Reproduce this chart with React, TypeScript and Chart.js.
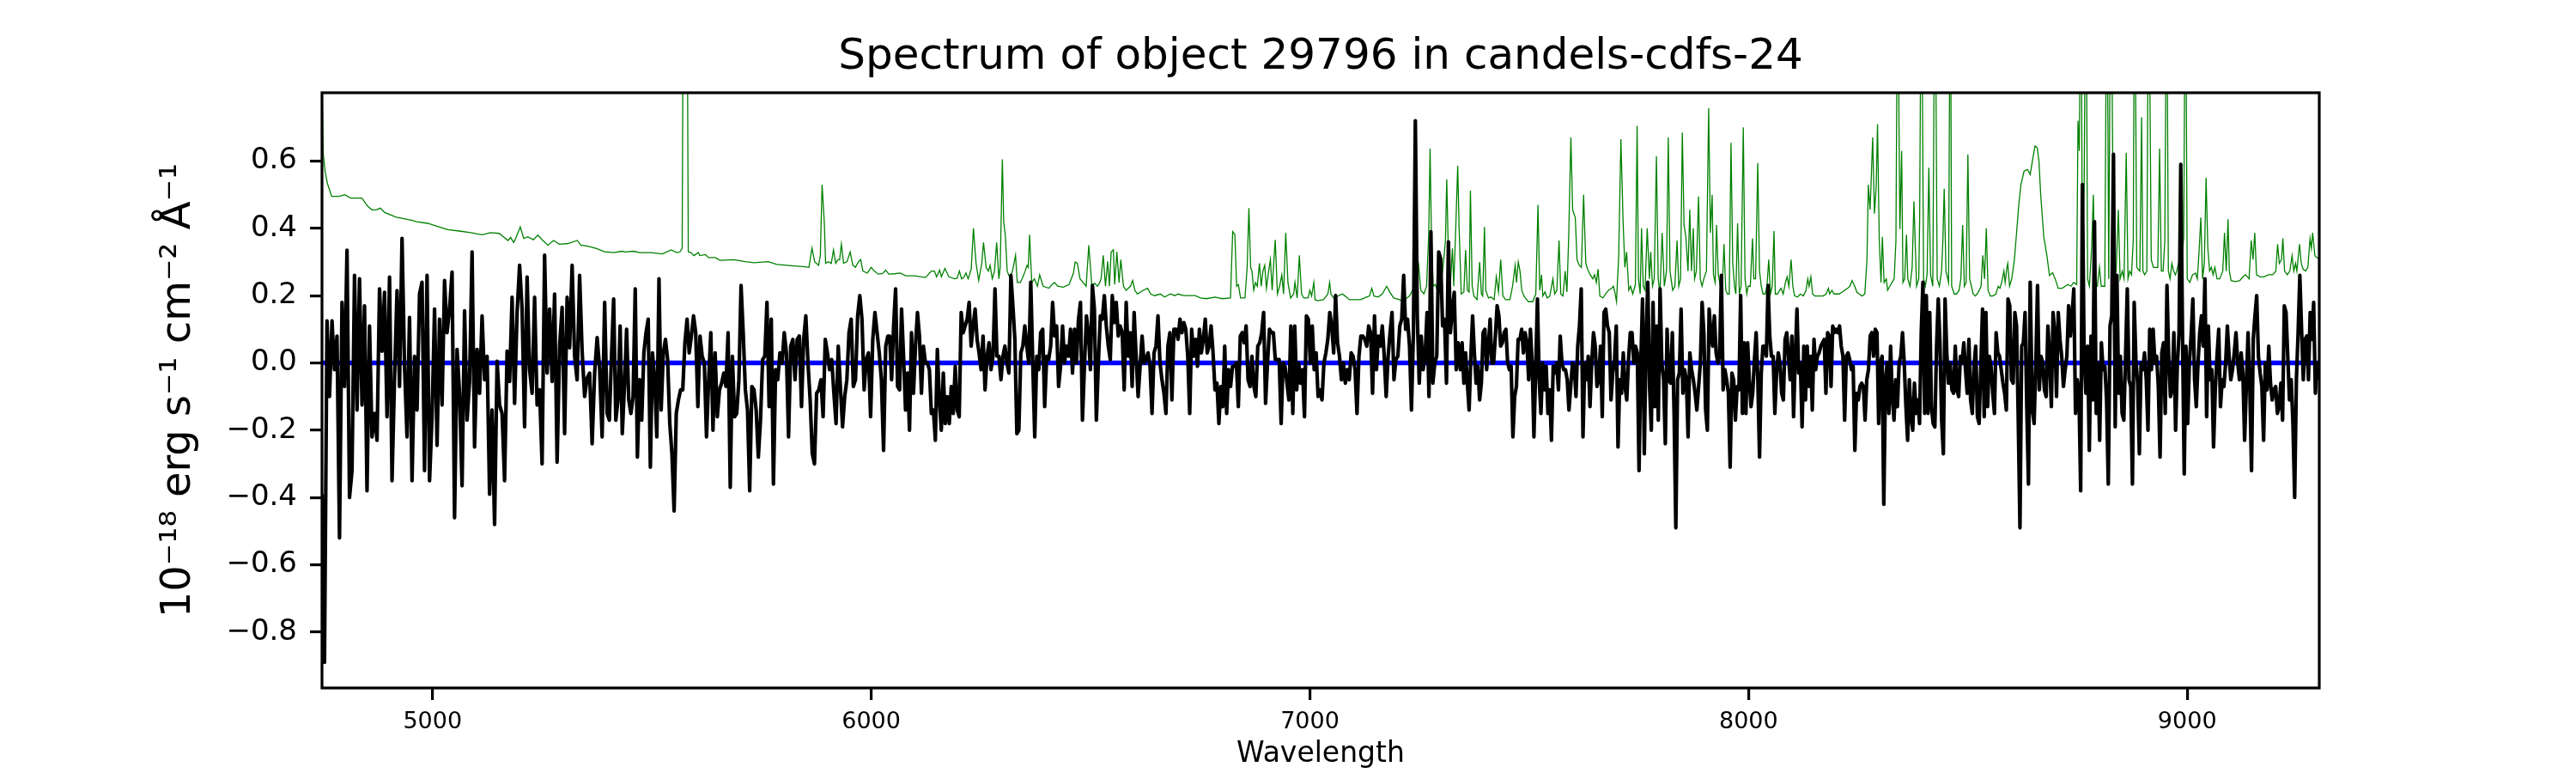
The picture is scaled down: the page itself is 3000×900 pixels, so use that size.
import { useRef, useEffect } from "react";
import { Chart, registerables } from "chart.js";

Chart.register(...registerables);
Chart.defaults.font.family = "'DejaVu Sans', sans-serif";
Chart.defaults.color = "#000";

const TITLE = "Spectrum of object 29796 in candels-cdfs-24";
const X_LABEL = "Wavelength";
const Y_LABEL = "10\u207b\u00b9\u2078 erg s\u207b\u00b9 cm\u207b\u00b2 \u00c5\u207b\u00b9";

const X_MIN = 4748;
const X_MAX = 9301;
const Y_MIN = -0.966;
const Y_MAX = 0.803;
const X_TICKS = [5000, 6000, 7000, 8000, 9000];
const X_TICK_LABELS = ["5000", "6000", "7000", "8000", "9000"];
const Y_TICKS = [-0.8, -0.6, -0.4, -0.2, 0.0, 0.2, 0.4, 0.6];
const Y_TICK_LABELS = ["\u22120.8", "\u22120.6", "\u22120.4", "\u22120.2", "0.0", "0.2", "0.4", "0.6"];

const FLUX_EDGES = [
  [4748, 5398],
  [5403, 6038],
  [6042, 6690],
  [6695, 7338],
  [7343, 7990],
  [7994, 8642],
  [8647, 9300],
];
const FLUX_A = [-0.39, -0.89, 0.125, -0.10, 0.125, -0.02, 0.08, -0.52, 0.18, -0.07, 0.335, -0.40, -0.32, 0.26, -0.14, 0.25, -0.125, 0.17, -0.38, 0.11, -0.22, -0.15, -0.23, 0.22, 0.035, 0.21, -0.16, 0.255, -0.35, -0.045, 0.215, -0.07, 0.37, -0.01, -0.22, 0.135, -0.35, 0.02, -0.14, 0.205, 0.24, -0.32, 0.26, -0.35, -0.16, 0.16, -0.245, 0.13, -0.125, 0.245, 0.09, 0.16, 0.27, -0.46, 0.04, -0.09, -0.365, 0.155, -0.17, -0.055, 0.33, -0.25, 0.04, -0.09, 0.14, -0.05, 0.02, -0.39, -0.14, -0.48, 0.005, -0.125, -0.15, -0.35, 0.035, -0.055, 0.195, -0.12, 0.15, 0.29, 0.16, -0.19, 0.255, -0.02, -0.09, 0.195, -0.125, -0.08, -0.30, 0.32, -0.03, 0.16, -0.055, 0.205, -0.295, 0.05, 0.165, -0.21, 0.195, 0.045, 0.29, 0.02, -0.05, 0.26, 0.035, -0.10, -0.045, -0.03, -0.24, -0.03, 0.075, -0.015, -0.22, 0.18, -0.15];
const FLUX_B = [-0.17, 0.02, 0.19, -0.17, -0.11, 0.11, -0.21, -0.07, 0.10, -0.11, -0.15, -0.10, 0.22, -0.28, -0.05, -0.17, 0.03, 0.09, 0.13, -0.31, 0.03, -0.05, -0.22, 0.25, -0.14, 0.03, 0.07, 0.01, -0.18, -0.27, -0.44, -0.15, -0.11, -0.08, -0.08, 0.06, 0.13, 0.03, 0.08, 0.14, 0.09, -0.13, 0.08, 0.02, 0.0, -0.22, -0.05, 0.09, -0.2, 0.03, -0.16, -0.08, -0.06, -0.03, -0.07, 0.09, -0.37, 0.02, -0.16, -0.15, -0.05, 0.23, 0.09, -0.08, -0.14, -0.38, -0.07, -0.08, -0.14, -0.28, -0.17, 0.01, 0.02, 0.18, -0.13, 0.13, -0.36, -0.02, -0.05, 0.03, 0, 0.09, 0.03, -0.22, 0.05, 0.07, -0.05, 0.07, 0.08, -0.13, 0.07, 0.14, 0, -0.11, -0.27, -0.3, -0.09, -0.08, -0.05, -0.16, 0.07, 0.03, -0.02, 0.01, -0.09, -0.18, 0.05, -0.07, -0.19, -0.1, -0.05, 0.09, 0.13, -0.07, -0.05, 0.14, 0.2, 0.13, -0.08, 0.01, 0.03, -0.16, 0.07, 0.15, 0.09, 0.03, -0.05, -0.26, 0.05, 0.08];
const FLUX_C = [0.08, -0.05, 0.11, 0.22, -0.07, -0.08, 0.16, 0.02, -0.14, -0.03, -0.2, 0.09, -0.09, 0.05, 0.15, 0.08, -0.09, 0.05, 0, 0, -0.02, -0.15, -0.14, -0.23, 0.04, -0.11, -0.2, -0.03, -0.18, -0.1, -0.18, -0.07, -0.15, -0.01, -0.14, -0.16, 0.15, 0.09, 0.11, 0.13, 0.18, 0.05, 0.11, 0.16, 0.07, 0.03, -0.02, 0.08, -0.08, 0.02, 0.06, -0.02, 0.02, 0.22, 0.02, 0.02, -0.05, 0.02, 0.05, 0, -0.03, 0.26, 0.17, 0.07, -0.21, -0.2, 0.03, 0.05, 0.11, 0.05, 0, 0.24, 0, -0.22, 0.02, -0.02, 0.09, 0.1, -0.13, 0.02, 0.01, 0.05, 0.18, 0.08, 0.11, -0.07, -0.01, 0.11, 0, 0.05, 0.02, 0.1, -0.03, 0.1, 0, 0.13, 0.18, -0.17, -0.01, 0.14, 0.09, -0.02, 0.23, 0.16, -0.17, 0, 0.14, 0.13, 0.2, 0.11, 0.05, 0.01, 0.2, 0.12, 0.18, 0.08, 0.11, 0.09, -0.08, 0.18, 0.02, 0.09, -0.07, 0.15, 0.02, -0.1, -0.01, 0.08, 0, 0.01, 0.03, -0.01, -0.15, 0.03, 0.05, 0.14, 0, -0.05, -0.09, -0.15, 0.05, 0.09, -0.11, 0.1];
const FLUX_D = [0.1, 0.07, 0.13, 0.09, 0.12, 0.1, 0.02, -0.15, 0.1, 0.02, 0.07, -0.01, 0.1, 0.03, 0.07, 0.13, 0.03, 0.05, 0.11, 0.03, -0.08, -0.06, -0.18, -0.07, -0.13, 0.05, -0.15, -0.02, -0.07, -0.01, -0.01, 0, -0.13, 0.08, 0.09, 0.06, 0.11, -0.05, -0.07, 0.02, -0.07, -0.1, 0.05, 0.06, 0.09, 0.15, -0.12, 0, 0.1, 0.09, 0.09, 0.01, 0.01, 0.01, -0.18, 0, -0.01, -0.06, -0.11, 0.11, -0.15, 0.11, -0.08, 0, -0.06, -0.02, -0.16, 0.14, 0.13, 0, 0.11, -0.02, 0.03, -0.1, -0.08, -0.11, 0, 0.03, 0.07, 0.15, 0.11, 0.03, 0.2, 0.06, 0.02, -0.05, 0, -0.06, -0.02, -0.05, 0.03, 0.02, -0.02, -0.15, 0.02, 0.08, 0.08, 0.07, 0.05, 0.11, 0.09, -0.09, 0.14, -0.02, 0.08, 0.05, 0.11, 0.02, -0.1, 0.02, 0.09, 0.15, -0.05, 0.01, 0.02, 0.11, 0.13, 0.26, 0.1, 0.13, 0.05, -0.14, 0.09, 0.72, 0.14, -0.06, 0.08, -0.02, 0.02, 0.15, -0.1, 0.39, -0.06, 0, 0.02, 0.33, 0.31, 0.11, 0.13, -0.06, 0.36, 0.09, 0.16, 0.21, -0.02, 0.06];
const FLUX_E = [-0.02, 0.06, -0.06, 0.03, -0.06, -0.14, 0.02, 0.14, 0.03, -0.06, -0.01, -0.11, -0.06, 0.09, 0.1, -0.02, 0.05, 0.13, 0, 0, 0.08, 0.17, 0.14, 0.05, 0.06, 0.09, 0.1, 0, -0.02, -0.01, -0.22, -0.1, -0.07, 0.07, 0.07, 0.1, 0.03, 0.09, 0.06, -0.05, 0.1, 0, -0.22, -0.02, 0.19, -0.05, -0.15, 0, -0.08, -0.01, -0.15, -0.08, -0.23, -0.01, -0.03, 0, -0.08, 0.08, 0, -0.02, -0.02, -0.05, -0.14, -0.07, 0, -0.01, -0.1, 0.05, 0.11, 0.22, -0.22, 0, -0.05, 0.02, -0.13, 0, 0.09, 0.05, -0.07, -0.05, 0.05, -0.16, 0.15, 0.16, 0.11, 0.09, -0.11, -0.03, 0.01, 0.11, -0.25, -0.05, -0.09, 0.03, -0.07, -0.11, 0.01, 0.09, 0.09, 0, 0.05, 0.03, -0.32, 0, 0.19, -0.27, 0.07, 0.24, -0.07, -0.2, 0.18, -0.13, 0.11, -0.17, 0.22, 0, -0.05, -0.24, 0.1, -0.05, -0.06, 0.09, -0.15, -0.49, -0.05, -0.03, 0.16, -0.09, -0.02, -0.05, -0.22, 0.03, -0.02, -0.05, -0.09, -0.14, -0.07, 0, 0.18, 0.09, -0.14, -0.2, 0.16, 0.09, 0.05, 0.14, 0.03, 0, 0.02, 0.26, -0.08, -0.02, -0.05, -0.09, -0.31, -0.03, -0.05, -0.17, -0.07, -0.08, 0.2, -0.15, 0.06];
const FLUX_F = [-0.15, 0.06, -0.05, -0.13, -0.09, 0.01, 0.09, -0.05, -0.28, -0.03, 0.05, 0.05, 0.02, 0.23, 0.08, 0.02, 0.02, -0.15, -0.03, 0.03, 0, -0.09, -0.11, 0.07, 0.09, 0.02, -0.05, 0.08, -0.16, 0.02, 0.16, -0.03, 0, -0.19, 0.05, -0.11, 0.05, -0.07, 0.02, -0.14, 0.07, -0.02, 0.02, 0.03, 0.05, 0.06, 0.07, -0.09, 0.09, 0.08, -0.07, 0.11, 0.09, 0.1, 0.09, 0.11, 0.05, 0.02, -0.17, 0.02, 0.03, 0.01, -0.02, -0.01, -0.26, -0.09, -0.11, -0.07, -0.06, -0.07, -0.17, -0.05, -0.02, 0.08, 0.09, 0.02, 0.1, 0.09, -0.18, 0, 0.02, -0.42, -0.05, 0, -0.15, 0.05, -0.1, -0.17, -0.05, -0.13, 0, 0.02, 0.09, 0, -0.13, -0.23, -0.05, -0.16, -0.2, -0.06, -0.15, -0.11, -0.18, 0.09, 0.24, -0.15, 0.2, -0.15, 0.15, -0.13, -0.18, -0.19, 0.05, 0.19, 0.06, -0.17, -0.27, 0.19, 0.03, -0.06, 0, -0.08, -0.09, 0.05, -0.08, -0.1, 0.02, 0, 0.06, -0.02, -0.09, 0.07, -0.11, -0.15, -0.01, 0.05, -0.16, -0.18, -0.01, 0.16, -0.16, 0.15, -0.13, 0.02, -0.01, -0.09, -0.15, 0.09, 0.03, 0.02, -0.02, -0.06, -0.09, -0.14, 0.19, 0.17, -0.05, -0.06, 0.15, 0.11, -0.17, -0.49, 0.05, 0.06, 0.15, -0.13, -0.36, 0.24];
const FLUX_G = [-0.14, -0.18, 0, 0.23, -0.08, 0.02, 0, -0.08, -0.1, 0.11, 0.02, -0.13, 0.15, 0.09, -0.1, 0.15, 0.07, 0.02, -0.07, -0.02, 0.02, 0.17, 0.08, 0.14, 0.22, -0.15, -0.05, -0.09, -0.38, 0.53, 0.02, -0.09, 0.05, -0.26, 0.08, -0.11, 0.42, -0.15, 0, -0.23, 0.06, -0.02, -0.01, -0.11, -0.36, 0.11, 0.14, 0.62, -0.19, 0.26, -0.09, 0.02, -0.15, -0.17, 0.02, 0.22, -0.05, -0.07, -0.36, 0.18, 0.01, -0.06, -0.27, 0, -0.02, 0.03, -0.05, -0.2, 0.1, -0.02, 0.1, 0, 0.02, -0.07, -0.28, 0.03, 0.06, -0.15, 0.23, 0.02, -0.1, -0.08, 0.09, -0.2, -0.01, 0.09, 0.59, 0.09, -0.33, 0.05, -0.18, 0, 0.08, 0.19, -0.05, -0.13, 0, 0.09, 0.14, 0.05, 0.25, -0.16, 0.11, -0.05, -0.02, -0.25, -0.08, 0.02, 0.1, -0.13, -0.05, -0.07, 0, 0.11, 0.02, -0.05, -0.02, 0.03, 0.09, 0, -0.05, 0.03, -0.03, -0.23, -0.07, 0.09, -0.07, -0.32, 0.07, 0.14, 0.2, 0.02, -0.03, -0.07, -0.23, 0, -0.08, 0.05, -0.06, -0.11, -0.08, -0.07, -0.15, -0.13, -0.06, -0.17, 0.17, 0.15, 0.02, -0.11, -0.05, -0.18, -0.4, -0.05, 0.09, 0.26, 0.1, -0.05, 0.07, 0.08, -0.05, 0.15, 0.07, 0.18, -0.09, 0, -0.05];
const FLUX_PARTS = [FLUX_A, FLUX_B, FLUX_C, FLUX_D, FLUX_E, FLUX_F, FLUX_G];

// noise / sky spectrum as [wavelength, value] pairs (values above the frame are clipped)
const SKY_A = [[4748, 0.82], [4751, 0.62], [4755, 0.57], [4760, 0.535], [4770, 0.495], [4787, 0.495], [4800, 0.5], [4813, 0.49], [4839, 0.49], [4852, 0.466], [4862, 0.455], [4871, 0.455], [4881, 0.46], [4891, 0.447], [4917, 0.433], [4930, 0.43], [4956, 0.423], [4963, 0.42], [4989, 0.415], [5008, 0.407], [5035, 0.396], [5061, 0.392], [5087, 0.387], [5113, 0.381], [5132, 0.387], [5152, 0.385], [5172, 0.364], [5178, 0.373], [5185, 0.358], [5191, 0.375], [5200, 0.404], [5208, 0.37], [5217, 0.375], [5230, 0.366], [5240, 0.38], [5250, 0.366], [5263, 0.35], [5276, 0.364], [5289, 0.353], [5309, 0.355], [5330, 0.364], [5338, 0.35], [5354, 0.347], [5374, 0.34], [5393, 0.33]];
const SKY_B = [[5400, 0.33], [5413, 0.328], [5432, 0.332], [5439, 0.33], [5459, 0.332], [5472, 0.328], [5498, 0.328], [5524, 0.324], [5544, 0.336], [5557, 0.328], [5564, 0.33], [5569, 0.341], [5573, 1.6], [5579, 1.6], [5583, 0.33], [5589, 0.328], [5596, 0.319], [5606, 0.328], [5609, 0.319], [5622, 0.322], [5629, 0.313], [5645, 0.313], [5655, 0.305], [5687, 0.307], [5713, 0.301], [5733, 0.298], [5765, 0.301], [5785, 0.293], [5818, 0.289], [5850, 0.286], [5858, 0.284], [5865, 0.341], [5871, 0.301], [5880, 0.29], [5884, 0.319], [5888, 0.53], [5893, 0.42], [5896, 0.296], [5902, 0.301], [5909, 0.296], [5914, 0.336], [5919, 0.296], [5924, 0.307], [5928, 0.307], [5932, 0.353], [5937, 0.296], [5945, 0.301], [5952, 0.33], [5958, 0.291], [5964, 0.284], [5971, 0.301], [5976, 0.307], [5981, 0.273], [5991, 0.267], [6000, 0.284], [6007, 0.273], [6016, 0.264], [6026, 0.266], [6033, 0.276]];
const SKY_C = [[6040, 0.264], [6053, 0.265], [6066, 0.267], [6079, 0.259], [6098, 0.259], [6124, 0.254], [6137, 0.273], [6144, 0.273], [6149, 0.256], [6156, 0.276], [6160, 0.256], [6168, 0.281], [6177, 0.256], [6190, 0.25], [6196, 0.252], [6201, 0.273], [6206, 0.25], [6211, 0.254], [6216, 0.267], [6221, 0.25], [6228, 0.279], [6233, 0.4], [6239, 0.296], [6245, 0.245], [6252, 0.296], [6256, 0.358], [6262, 0.284], [6267, 0.273], [6271, 0.29], [6276, 0.25], [6281, 0.273], [6286, 0.358], [6291, 0.25], [6294, 0.284], [6299, 0.605], [6302, 0.42], [6306, 0.375], [6310, 0.273], [6317, 0.25], [6323, 0.279], [6329, 0.32], [6333, 0.239], [6340, 0.239], [6346, 0.256], [6351, 0.273], [6355, 0.29], [6358, 0.284], [6361, 0.381], [6366, 0.239], [6372, 0.25], [6379, 0.228], [6384, 0.262], [6392, 0.228], [6405, 0.222], [6412, 0.233], [6418, 0.239], [6425, 0.228], [6438, 0.225], [6451, 0.233], [6461, 0.267], [6465, 0.3], [6470, 0.296], [6476, 0.25], [6483, 0.239], [6490, 0.228], [6496, 0.35], [6503, 0.228], [6509, 0.237], [6516, 0.228], [6521, 0.239], [6524, 0.25], [6529, 0.32], [6534, 0.228], [6539, 0.302], [6543, 0.228], [6547, 0.33], [6552, 0.336], [6555, 0.233], [6560, 0.33], [6565, 0.239], [6569, 0.307], [6575, 0.228], [6581, 0.216], [6591, 0.228], [6596, 0.245], [6601, 0.216], [6607, 0.205], [6620, 0.216], [6630, 0.222], [6637, 0.205], [6646, 0.2], [6659, 0.205], [6669, 0.196], [6682, 0.205]];
const SKY_D = [[6692, 0.2], [6699, 0.205], [6712, 0.2], [6725, 0.2], [6738, 0.2], [6751, 0.193], [6764, 0.191], [6784, 0.196], [6800, 0.191], [6819, 0.193], [6824, 0.39], [6829, 0.381], [6833, 0.228], [6837, 0.233], [6842, 0.193], [6852, 0.193], [6857, 0.284], [6861, 0.46], [6865, 0.284], [6868, 0.273], [6872, 0.216], [6876, 0.239], [6880, 0.228], [6885, 0.296], [6889, 0.228], [6893, 0.273], [6897, 0.29], [6901, 0.222], [6906, 0.273], [6910, 0.307], [6914, 0.216], [6917, 0.284], [6921, 0.366], [6926, 0.205], [6931, 0.228], [6936, 0.262], [6940, 0.205], [6945, 0.387], [6950, 0.239], [6956, 0.193], [6963, 0.205], [6966, 0.239], [6971, 0.193], [6976, 0.32], [6981, 0.205], [6986, 0.193], [6996, 0.193], [7000, 0.216], [7004, 0.199], [7009, 0.239], [7012, 0.188], [7018, 0.185], [7031, 0.188], [7041, 0.205], [7045, 0.239], [7048, 0.205], [7054, 0.193], [7064, 0.199], [7074, 0.205], [7080, 0.199], [7090, 0.188], [7103, 0.188], [7116, 0.188], [7129, 0.196], [7136, 0.199], [7141, 0.222], [7146, 0.199], [7156, 0.196], [7165, 0.205], [7175, 0.228], [7182, 0.211], [7191, 0.193], [7204, 0.188], [7211, 0.182], [7221, 0.193], [7227, 0.199], [7234, 0.216], [7239, 0.205], [7244, 0.256], [7248, 0.29], [7253, 0.216], [7260, 0.205], [7266, 0.228], [7271, 0.387], [7274, 0.637], [7277, 0.387], [7281, 0.228], [7286, 0.233], [7293, 0.205], [7299, 0.228], [7306, 0.319], [7309, 0.364], [7312, 0.546], [7315, 0.364], [7320, 0.228], [7325, 0.34], [7328, 0.228], [7333, 0.421], [7337, 0.586], [7340, 0.41]];
const SKY_E = [[7345, 0.205], [7351, 0.211], [7355, 0.336], [7359, 0.216], [7363, 0.211], [7366, 0.512], [7370, 0.228], [7374, 0.199], [7381, 0.188], [7387, 0.3], [7391, 0.205], [7394, 0.199], [7398, 0.404], [7401, 0.216], [7407, 0.193], [7413, 0.196], [7420, 0.188], [7425, 0.256], [7430, 0.211], [7435, 0.307], [7440, 0.199], [7446, 0.188], [7456, 0.188], [7462, 0.228], [7468, 0.29], [7471, 0.239], [7475, 0.3], [7479, 0.273], [7483, 0.216], [7488, 0.199], [7498, 0.182], [7508, 0.182], [7515, 0.205], [7520, 0.47], [7524, 0.216], [7528, 0.262], [7531, 0.199], [7536, 0.211], [7541, 0.193], [7547, 0.199], [7554, 0.25], [7558, 0.205], [7563, 0.216], [7568, 0.364], [7572, 0.205], [7577, 0.199], [7582, 0.273], [7586, 0.211], [7590, 0.375], [7595, 0.67], [7599, 0.455], [7605, 0.432], [7609, 0.307], [7614, 0.29], [7619, 0.284], [7624, 0.5], [7629, 0.296], [7633, 0.279], [7639, 0.262], [7645, 0.25], [7649, 0.262], [7653, 0.239], [7657, 0.279], [7661, 0.199], [7668, 0.193], [7674, 0.205], [7681, 0.216], [7688, 0.222], [7692, 0.228], [7696, 0.205], [7699, 0.182], [7704, 0.319], [7709, 0.665], [7714, 0.421], [7718, 0.284], [7722, 0.33], [7727, 0.216], [7731, 0.228], [7736, 0.205], [7742, 0.233], [7746, 0.705], [7749, 0.25], [7753, 0.205], [7756, 0.4], [7760, 0.228], [7764, 0.216], [7769, 0.4], [7774, 0.25], [7777, 0.33], [7781, 0.228], [7785, 0.25], [7790, 0.614], [7794, 0.25], [7798, 0.205], [7803, 0.387], [7808, 0.228], [7813, 0.273], [7817, 0.67], [7821, 0.273], [7827, 0.216], [7832, 0.228], [7837, 0.364], [7841, 0.228], [7845, 0.25], [7849, 0.685], [7853, 0.41], [7857, 0.375], [7862, 0.273], [7866, 0.455], [7870, 0.273], [7874, 0.4], [7877, 0.25], [7881, 0.273], [7886, 0.495], [7890, 0.25], [7894, 0.228], [7898, 0.25], [7904, 0.273], [7909, 0.757], [7913, 0.387], [7917, 0.5], [7920, 0.262], [7924, 0.239], [7927, 0.41], [7931, 0.262], [7936, 0.228], [7940, 0.216], [7944, 0.353], [7948, 0.216], [7952, 0.205], [7956, 0.205], [7960, 0.654], [7964, 0.296], [7968, 0.228], [7971, 0.205], [7975, 0.415], [7979, 0.205], [7983, 0.228], [7988, 0.7], [7992, 0.25]];
const SKY_F = [[7996, 0.205], [7999, 0.228], [8004, 0.228], [8009, 0.37], [8012, 0.25], [8016, 0.25], [8021, 0.594], [8025, 0.273], [8029, 0.228], [8033, 0.205], [8038, 0.205], [8042, 0.228], [8046, 0.307], [8050, 0.205], [8054, 0.228], [8058, 0.392], [8061, 0.205], [8066, 0.205], [8071, 0.216], [8074, 0.222], [8079, 0.205], [8084, 0.239], [8088, 0.256], [8092, 0.228], [8097, 0.307], [8101, 0.228], [8105, 0.199], [8112, 0.196], [8118, 0.205], [8125, 0.199], [8131, 0.216], [8135, 0.25], [8138, 0.228], [8142, 0.256], [8146, 0.205], [8151, 0.199], [8157, 0.199], [8164, 0.199], [8170, 0.199], [8177, 0.205], [8182, 0.222], [8185, 0.205], [8190, 0.216], [8195, 0.205], [8200, 0.205], [8206, 0.205], [8213, 0.21], [8219, 0.216], [8226, 0.222], [8231, 0.228], [8236, 0.245], [8242, 0.228], [8247, 0.21], [8252, 0.205], [8259, 0.199], [8265, 0.205], [8270, 0.307], [8273, 0.53], [8277, 0.455], [8279, 0.523], [8283, 0.67], [8287, 0.444], [8291, 0.523], [8294, 0.71], [8298, 0.364], [8302, 0.239], [8305, 0.375], [8309, 0.239], [8314, 0.25], [8317, 0.216], [8322, 0.228], [8327, 0.239], [8332, 0.25], [8336, 0.364], [8340, 1.3], [8343, 0.705], [8345, 0.398], [8349, 0.63], [8352, 0.239], [8356, 0.25], [8360, 0.381], [8363, 0.25], [8368, 0.228], [8373, 0.284], [8377, 0.48], [8383, 0.228], [8388, 0.25], [8390, 0.421], [8394, 1.3], [8399, 0.25], [8403, 0.228], [8407, 0.262], [8411, 0.58], [8415, 0.262], [8420, 0.228], [8425, 1.3], [8430, 0.25], [8435, 0.228], [8440, 0.273], [8443, 0.364], [8446, 0.518], [8450, 0.273], [8456, 0.239], [8460, 1.3], [8463, 0.228], [8469, 0.205], [8474, 0.205], [8480, 0.216], [8484, 0.25], [8488, 0.41], [8492, 0.228], [8496, 0.239], [8500, 0.62], [8504, 0.25], [8508, 0.228], [8512, 0.205], [8517, 0.199], [8521, 0.205], [8526, 0.216], [8530, 0.228], [8534, 0.32], [8538, 0.25], [8542, 0.4], [8546, 0.216], [8551, 0.199], [8557, 0.199], [8564, 0.205], [8569, 0.228], [8573, 0.222], [8577, 0.239], [8582, 0.273], [8585, 0.239], [8589, 0.284], [8591, 0.296], [8595, 0.228], [8600, 0.25], [8606, 0.307], [8611, 0.387], [8616, 0.47], [8621, 0.53], [8628, 0.57], [8636, 0.575], [8642, 0.56]];
const SKY_G = [[8647, 0.6], [8653, 0.645], [8658, 0.64], [8662, 0.6], [8666, 0.5], [8673, 0.375], [8680, 0.32], [8686, 0.26], [8693, 0.268], [8699, 0.25], [8706, 0.222], [8715, 0.222], [8722, 0.228], [8728, 0.233], [8735, 0.228], [8741, 0.239], [8748, 0.233], [8751, 0.72], [8754, 0.63], [8758, 1.3], [8761, 0.25], [8765, 0.512], [8769, 1.3], [8773, 0.25], [8777, 0.228], [8782, 0.34], [8786, 0.5], [8790, 0.228], [8795, 0.228], [8800, 0.284], [8804, 0.228], [8808, 0.228], [8812, 0.228], [8817, 1.3], [8821, 0.25], [8826, 1.3], [8830, 0.637], [8834, 0.25], [8838, 0.273], [8843, 0.455], [8847, 0.25], [8852, 0.273], [8856, 0.25], [8861, 0.625], [8865, 0.25], [8869, 0.273], [8873, 0.262], [8877, 0.364], [8880, 1.3], [8885, 0.284], [8892, 0.273], [8896, 0.73], [8899, 0.273], [8903, 0.262], [8908, 0.273], [8912, 1.3], [8918, 0.307], [8923, 0.284], [8928, 0.284], [8933, 0.284], [8937, 0.637], [8941, 0.273], [8945, 0.273], [8949, 0.364], [8953, 1.3], [8957, 0.273], [8961, 0.25], [8965, 0.296], [8969, 0.273], [8973, 0.262], [8976, 0.273], [8980, 0.296], [8984, 0.307], [8988, 0.307], [8992, 0.375], [8996, 1.3], [9000, 0.25], [9006, 0.239], [9012, 0.262], [9019, 0.267], [9023, 0.25], [9027, 0.33], [9031, 0.432], [9035, 0.25], [9039, 0.296], [9043, 0.55], [9047, 0.341], [9051, 0.273], [9055, 0.284], [9059, 0.262], [9063, 0.284], [9068, 0.25], [9074, 0.25], [9081, 0.273], [9085, 0.387], [9089, 0.273], [9093, 0.427], [9096, 0.273], [9100, 0.245], [9110, 0.242], [9120, 0.245], [9127, 0.256], [9133, 0.262], [9141, 0.25], [9146, 0.364], [9150, 0.307], [9154, 0.387], [9158, 0.262], [9166, 0.256], [9175, 0.256], [9185, 0.262], [9195, 0.262], [9202, 0.273], [9206, 0.353], [9210, 0.296], [9215, 0.307], [9218, 0.37], [9222, 0.273], [9228, 0.262], [9234, 0.273], [9239, 0.319], [9243, 0.273], [9247, 0.296], [9250, 0.273], [9256, 0.353], [9260, 0.296], [9264, 0.279], [9270, 0.273], [9275, 0.284], [9280, 0.37], [9283, 0.341], [9286, 0.387], [9291, 0.319], [9296, 0.313], [9300, 0.31]];
const SKY_PARTS = [SKY_A, SKY_B, SKY_C, SKY_D, SKY_E, SKY_F, SKY_G];

// zero-level model
const MODEL_WAVE = [4748, 9301];
const MODEL_FLUX = [0, 0];

const framePlugin = {
  id: "frame",
  afterDatasetsDraw(chart: Chart) {
    const { ctx, chartArea: a } = chart;
    ctx.save();
    ctx.strokeStyle = "#000";
    ctx.lineWidth = 3.2;
    ctx.strokeRect(a.left, a.top, a.right - a.left, a.bottom - a.top);
    ctx.restore();
  },
};

const SpectrumChart = () => {
  const canvasRef = useRef<HTMLCanvasElement>(null);

  useEffect(() => {
    document.body.style.margin = "0";
    if (!canvasRef.current) return;

    const fluxPoints = FLUX_PARTS.flatMap((part, s) => {
      const [from, to] = FLUX_EDGES[s];
      const step = (to - from) / (part.length - 1);
      return part.map((y, i) => ({ x: from + i * step, y }));
    });
    const skyPoints = SKY_PARTS.flat().map(([x, y]) => ({ x, y }));
    const modelPoints = MODEL_WAVE.map((x, i) => ({ x, y: MODEL_FLUX[i] }));

    const tickGrid = {
      display: true,
      drawOnChartArea: false,
      drawTicks: true,
      tickLength: 14,
      color: "#000",
      lineWidth: 3.2,
    };

    const chart = new Chart(canvasRef.current, {
      type: "line",
      data: {
        datasets: [
          {
            label: "flux",
            data: fluxPoints,
            borderColor: "#000000",
            borderWidth: 4.2,
            pointRadius: 0,
            tension: 0,
            fill: false,
            borderJoinStyle: "round",
            order: 1,
          },
          {
            label: "error",
            data: skyPoints,
            borderColor: "#008000",
            borderWidth: 1.3,
            pointRadius: 0,
            tension: 0,
            fill: false,
            order: 2,
          },
          {
            label: "model",
            data: modelPoints,
            borderColor: "#0000ff",
            borderWidth: 5.5,
            pointRadius: 0,
            fill: false,
            order: 3,
          },
        ],
      },
      options: {
        animation: false,
        responsive: true,
        maintainAspectRatio: false,
        devicePixelRatio: 1,
        // left padding shifts the centred title onto the plot's centre
        layout: { padding: { left: 76, right: 0, top: 0, bottom: 0 } },
        scales: {
          x: {
            type: "linear",
            min: X_MIN,
            max: X_MAX,
            afterBuildTicks: (scale: any) => {
              scale.ticks = X_TICKS.map((value) => ({ value }));
            },
            afterFit: (scale: any) => {
              scale.height = 99;
            },
            ticks: {
              callback: (_v: any, i: number) => X_TICK_LABELS[i],
              font: { size: 27 },
              color: "#000",
              padding: 10,
              maxRotation: 0,
            },
            grid: tickGrid,
            border: { display: false },
            title: {
              display: true,
              text: X_LABEL,
              font: { size: 33 },
              color: "#000",
              padding: { top: 0, bottom: 2 },
            },
          },
          y: {
            type: "linear",
            min: Y_MIN,
            max: Y_MAX,
            afterBuildTicks: (scale: any) => {
              scale.ticks = Y_TICKS.map((value) => ({ value }));
            },
            afterFit: (scale: any) => {
              scale.width = 299;
            },
            ticks: {
              callback: (_v: any, i: number) => Y_TICK_LABELS[i],
              font: { size: 34 },
              color: "#000",
              padding: 15,
            },
            grid: tickGrid,
            border: { display: false },
            title: {
              display: true,
              text: Y_LABEL,
              font: { size: 48 },
              color: "#000",
              padding: { top: 104, bottom: 0 },
            },
          },
          // empty right-hand box that reserves the figure's right margin
          yRight: {
            type: "linear",
            position: "right",
            min: Y_MIN,
            max: Y_MAX,
            display: true,
            afterFit: (scale: any) => {
              scale.width = 299;
            },
            ticks: { display: false },
            grid: { display: false },
            border: { display: false },
            title: { display: false },
          },
        },
        plugins: {
          legend: { display: false },
          tooltip: { enabled: false },
          title: {
            display: true,
            text: TITLE,
            color: "#000",
            font: { size: 50, weight: "normal" },
            padding: { top: 37, bottom: 11 },
          },
        },
      },
      plugins: [framePlugin],
    });

    return () => {
      chart.destroy();
    };
  }, []);

  return (
    <div style={{ position: "relative", width: "3000px", height: "900px", background: "#fff" }}>
      <canvas ref={canvasRef}></canvas>
    </div>
  );
};

export default function App() {
  return <SpectrumChart />;
}
